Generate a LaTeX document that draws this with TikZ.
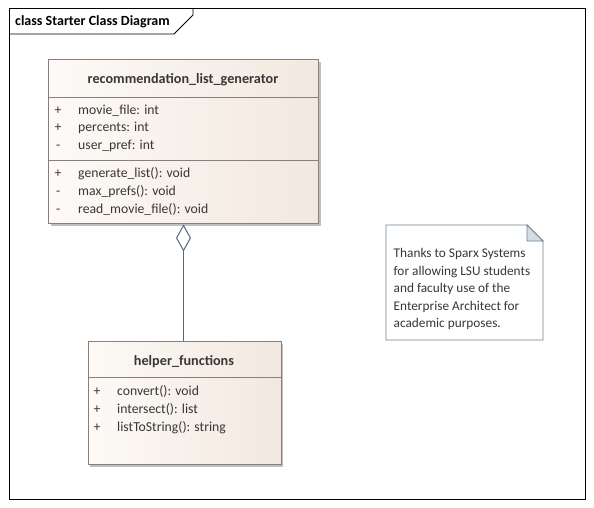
\documentclass[tikz,border=0pt]{standalone}
\usepackage{fontspec}
\setmainfont{Carlito}
\usetikzlibrary{arrows.meta,shadows}
\definecolor{boxline}{RGB}{140,124,124}
\definecolor{boxlight}{RGB}{253,250,247}
\definecolor{boxdark}{RGB}{242,232,223}
\definecolor{txt}{RGB}{55,55,55}
\definecolor{conn}{RGB}{90,104,122}
\definecolor{noteline}{RGB}{110,130,150}
\definecolor{notefold}{RGB}{214,220,226}
\tikzset{
  classbox/.style={draw=boxline, line width=0.9pt, left color=boxlight, right color=boxdark,
    inner sep=0, anchor=north west,
    drop shadow={shadow xshift=2.5pt, shadow yshift=-2.5pt, fill=black, opacity=0.25}},
  sep/.style={draw=boxline, line width=0.9pt},
  ctitle/.style={font=\fontsize{14.2}{16}\selectfont\bfseries, text=txt, inner sep=0, anchor=base},
  member/.style={font=\fontsize{13.7}{16}\selectfont, text=txt, inner sep=0, anchor=base west},
  conline/.style={draw=conn, line width=1pt},
}
\begin{document}
\begin{tikzpicture}[x=1pt,y=-1pt]
\useasboundingbox (0,0) rectangle (594,508);
\fill[white] (0,0) rectangle (594,508);
% frame
\draw[black, line width=1pt] (9,9) rectangle (585,499);
\draw[black, line width=0.8pt] (9,34) -- (174,34) -- (193,15) -- (193,9);
\node[font=\fontsize{14}{16}\selectfont\bfseries, anchor=base west, inner sep=0] (frametitle) at (15,25.5) {class Starter Class Diagram};

% class recommendation_list_generator
\node[classbox, minimum width=270pt, minimum height=164pt] (rlg) at (48,59) {};
\draw[sep] (48,97) -- (318,97);
\draw[sep] (48,160) -- (318,160);
\node[ctitle] (rlgt) at (183,84) {recommendation\_list\_generator};
\node[member] (rv1) at (54.5,114) {+};
\node[member] (ra1) at (78,114) {movie\_file: int};
\node[member] (rv2) at (54.5,131.7) {+};
\node[member] (ra2) at (78,131.7) {percents: int};
\node[member] (rv3) at (56,149.3) {-};
\node[member] (ra3) at (78,149.3) {user\_pref: int};
\node[member] (rv4) at (54.5,177.7) {+};
\node[member] (ro1) at (78,177.7) {generate\_list(): void};
\node[member] (rv5) at (56,195.3) {-};
\node[member] (ro2) at (78,195.3) {max\_prefs(): void};
\node[member] (rv6) at (56,213.2) {-};
\node[member] (ro3) at (78,213.2) {read\_movie\_file(): void};

% class helper_functions
\node[classbox, minimum width=193pt, minimum height=123pt] (hf) at (87.5,341) {};
\draw[sep] (87.5,377) -- (280.5,377);
\node[ctitle] (hft) at (184,365) {helper\_functions};
\node[member] (hv1) at (93.5,395.5) {+};
\node[member] (ho1) at (117,395.5) {convert(): void};
\node[member] (hv2) at (93.5,413.3) {+};
\node[member] (ho2) at (117,413.3) {intersect(): list};
\node[member] (hv3) at (93.5,431.2) {+};
\node[member] (ho3) at (117,431.2) {listToString(): string};

% aggregation
\draw[conline, -{Diamond[open, length=27pt, width=15pt, line width=1pt, fill=white]}] (hf.north -| 183.5,0) -- (183.5,224.5);

% note
\fill[white] (386,225) -- (527,225) -- (543,241) -- (543,340) -- (386,340) -- cycle;
\draw[noteline, line width=0.9pt] (386,225) -- (527,225) -- (543,241) -- (543,340) -- (386,340) -- cycle;
\filldraw[fill=notefold, draw=noteline, line width=0.9pt] (527,225) -- (527,241) -- (543,241) -- cycle;
\node[font=\fontsize{13.3}{17.5}\selectfont, text=txt, anchor=north west, align=left, inner sep=0] (note) at (393.5,248.3) {Thanks to Sparx Systems\\for allowing LSU students\\and faculty use of the\\Enterprise Architect for\\academic purposes.};
\end{tikzpicture}
\end{document}
